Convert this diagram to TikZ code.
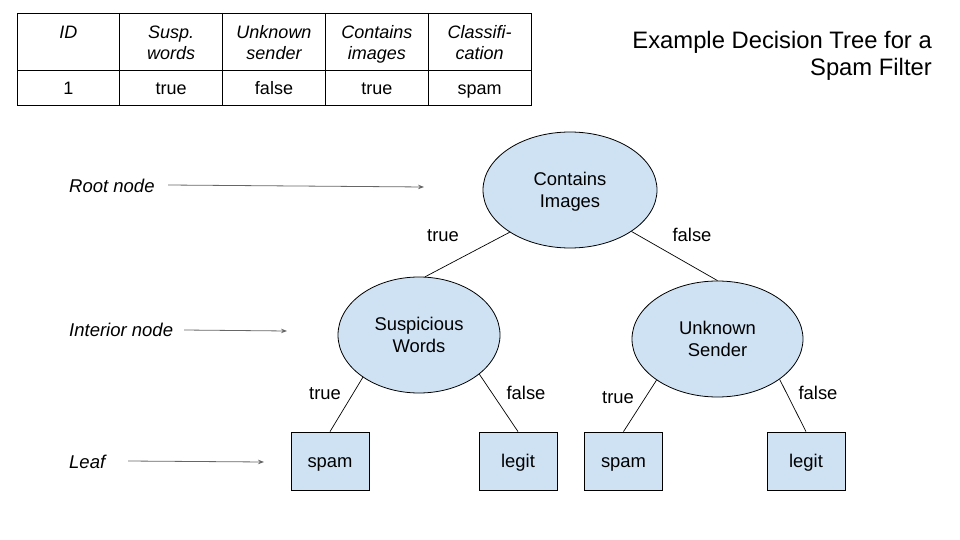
\documentclass[tikz,border=0pt]{standalone}
\usepackage{fontspec}
\setmainfont{Liberation Sans}
\usetikzlibrary{shapes.geometric,arrows.meta}
\definecolor{nodefill}{HTML}{CFE2F3}
\definecolor{pointergray}{HTML}{666666}
\begin{document}
\begin{tikzpicture}[x=1pt,y=-1pt,
  txt/.style={font=\fontsize{18.4}{22}\selectfont, align=center, inner sep=0pt},
  oneline/.style={text height=13pt, text depth=0pt},
  decision/.style={ellipse, draw=black, line width=0.8pt, fill=nodefill, inner sep=0pt, minimum height=116pt, txt},
  leafbox/.style={rectangle, draw=black, line width=0.8pt, fill=nodefill, minimum width=78pt, minimum height=58pt, inner sep=0pt, txt, oneline},
  branch/.style={line width=0.7pt, draw=black},
  pointer/.style={draw=pointergray, line width=0.8pt, -{Stealth[length=6pt,width=4.5pt]}},
  side/.style={font=\fontsize{18.5}{22}\selectfont\itshape, anchor=west, inner sep=0pt, oneline},
  lbl/.style={txt, oneline},
  cell/.style={font=\fontsize{18}{21}\selectfont, align=center, inner sep=0pt},
  headcell/.style={cell, font=\fontsize{18}{21}\selectfont\itshape},
  tableline/.style={draw=black, line width=0.8pt}
]
\useasboundingbox (0,0) rectangle (960,540);

% table
\draw[tableline] (17,13) rectangle (531,105);
\draw[tableline] (17,70.5) -- (531,70.5);
\foreach \x in {119.8,222.6,325.4,428.2} \draw[tableline] (\x,13) -- (\x,105);
\node[headcell, oneline] (hid) at (68.4,32) {ID};
\node[headcell] (hsusp) at (171.2,42.5) {Susp.\\\smash{words}};
\node[headcell] (hunk) at (274,42.5) {Unknown\\\smash{sender}};
\node[headcell] (himg) at (376.8,42.5) {Contains\\\smash{images}};
\node[headcell] (hcls) at (479.6,42.5) {Classifi-\\\smash{cation}};
\node[cell, oneline] (rid) at (68.4,88) {1};
\node[cell, oneline] (rsusp) at (171.2,88) {true};
\node[cell, oneline] (runk) at (274,88) {false};
\node[cell, oneline] (rimg) at (376.8,88) {true};
\node[cell, oneline] (rcls) at (479.6,88) {spam};

% title
\node[anchor=east, align=right, inner sep=0pt, font=\fontsize{23.8}{27}\selectfont] (title) at (932,53.5) {Example Decision Tree for a\\\smash{Spam Filter}};

% tree nodes
\node[decision, minimum width=174pt] (root) at (570,190) {Contains\\\smash{Images}};
\node[decision, minimum width=162pt] (susp) at (419,335) {Suspicious\\\smash{Words}};
\node[decision, minimum width=171pt] (unk) at (717.5,339) {Unknown\\\smash{Sender}};
\node[leafbox] (spam1) at (330,461) {spam};
\node[leafbox] (legit1) at (518,461) {legit};
\node[leafbox] (spam2) at (623.5,461) {spam};
\node[leafbox] (legit2) at (806,461) {legit};

% branches
\draw[branch] (root.215) -- (susp.84);
\draw[branch] (root.326) -- (unk.north);
\draw[branch] (susp.217) -- (spam1.north);
\draw[branch] (susp.327) -- (legit1.north);
\draw[branch] (unk.214) -- (spam2.north);
\draw[branch] (unk.327) -- (legit2.north);

% branch labels
\node[lbl] (t1) at (443,235) {true};
\node[lbl] (f1) at (692,235) {false};
\node[lbl] (t2) at (325,393) {true};
\node[lbl] (f2) at (526,393) {false};
\node[lbl] (t3) at (618,397) {true};
\node[lbl] (f3) at (818,393) {false};

% side labels
\node[side] (lroot) at (69,186) {Root node};
\node[side] (lint) at (69,330) {Interior node};
\node[side] (lleaf) at (69,462) {Leaf};
\coordinate (prootA) at (168,185);
\coordinate (prootB) at (424,187);
\coordinate (pintA) at (184,330);
\coordinate (pintB) at (287,331);
\coordinate (pleafA) at (128,461);
\coordinate (pleafB) at (264,462);
\draw[pointer] (prootA) -- (prootB);
\draw[pointer] (pintA) -- (pintB);
\draw[pointer] (pleafA) -- (pleafB);
\end{tikzpicture}
\end{document}
